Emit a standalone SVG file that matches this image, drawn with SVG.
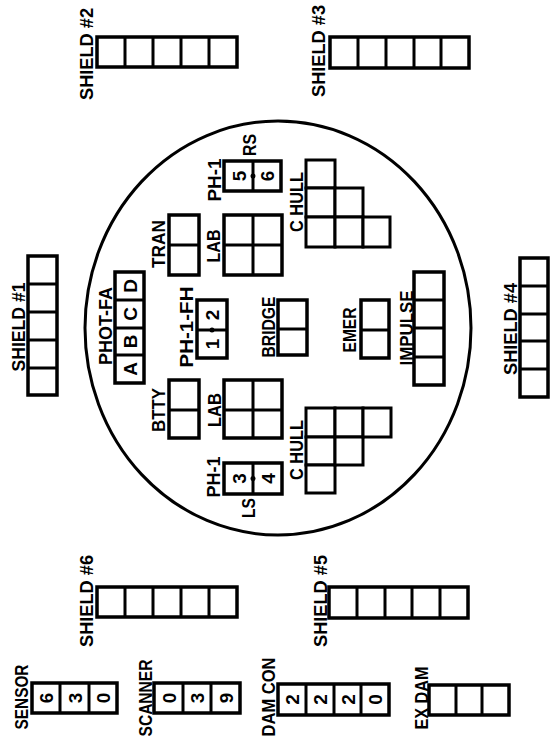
<svg xmlns="http://www.w3.org/2000/svg" width="552" height="747" viewBox="0 0 552 747">
<style>
.box{fill:#fff;stroke:#000;stroke-width:3.5}
.cell{fill:#fff;stroke:#000;stroke-width:3}
.ln{stroke:#000;stroke-width:3;fill:none}
.lbl{font-family:"Liberation Sans",Arial,sans-serif;font-weight:bold;font-size:18px;text-anchor:middle;fill:#000}
.dg{font-family:"Liberation Sans",Arial,sans-serif;font-weight:bold;font-size:19px;text-anchor:middle;fill:#000}
</style>
<rect width="552" height="747" fill="#fff"/>
<g id="hull"><ellipse cx="278" cy="328" rx="193" ry="207" fill="none" stroke="#000" stroke-width="3"/></g>

<g id="shield2">
<rect class="box" x="97" y="37" width="140" height="30"/>
<path class="ln" d="M125 37V67M153 37V67M181 37V67M209 37V67"/>
<text class="lbl" transform="translate(93,54) rotate(-90)" textLength="92" lengthAdjust="spacingAndGlyphs">SHIELD #2</text>
</g>
<g id="shield3">
<rect class="box" x="330" y="37" width="139" height="31"/>
<path class="ln" d="M358 37V68M386 37V68M414 37V68M441 37V68"/>
<text class="lbl" transform="translate(325,51) rotate(-90)" textLength="92" lengthAdjust="spacingAndGlyphs">SHIELD #3</text>
</g>
<g id="shield1">
<rect class="box" x="28" y="256" width="29" height="139"/>
<path class="ln" d="M28 284H57M28 312H57M28 340H57M28 368H57"/>
<text class="lbl" transform="translate(25,327) rotate(-90)" textLength="89" lengthAdjust="spacingAndGlyphs">SHIELD #1</text>
</g>
<g id="shield4">
<rect class="box" x="520" y="258" width="28" height="139"/>
<path class="ln" d="M520 286H548M520 314H548M520 341H548M520 369H548"/>
<text class="lbl" transform="translate(517,329) rotate(-90)" textLength="92" lengthAdjust="spacingAndGlyphs">SHIELD #4</text>
</g>
<g id="shield6">
<rect class="box" x="97" y="587" width="140" height="30"/>
<path class="ln" d="M125 587V617M153 587V617M181 587V617M209 587V617"/>
<text class="lbl" transform="translate(93,601) rotate(-90)" textLength="92" lengthAdjust="spacingAndGlyphs">SHIELD #6</text>
</g>
<g id="shield5">
<rect class="box" x="329" y="587" width="139" height="31"/>
<path class="ln" d="M357 587V618M385 587V618M412 587V618M440 587V618"/>
<text class="lbl" transform="translate(327,601) rotate(-90)" textLength="92" lengthAdjust="spacingAndGlyphs">SHIELD #5</text>
</g>

<g id="sensor">
<rect class="box" x="32" y="683" width="85" height="30"/>
<path class="ln" d="M60 683V713M89 683V713"/>
<text class="dg" transform="translate(53,698) rotate(-90)">6</text>
<text class="dg" transform="translate(81.5,698) rotate(-90)">3</text>
<text class="dg" transform="translate(110,698) rotate(-90)">0</text>
<text class="lbl" transform="translate(28,697) rotate(-90)" textLength="65" lengthAdjust="spacingAndGlyphs">SENSOR</text>
</g>
<g id="scanner">
<rect class="box" x="154" y="683" width="86" height="30"/>
<path class="ln" d="M183 683V713M211 683V713"/>
<text class="dg" transform="translate(175.5,698) rotate(-90)">0</text>
<text class="dg" transform="translate(204,698) rotate(-90)">3</text>
<text class="dg" transform="translate(232.5,698) rotate(-90)">9</text>
<text class="lbl" transform="translate(152,698) rotate(-90)" textLength="77" lengthAdjust="spacingAndGlyphs">SCANNER</text>
</g>
<g id="damcon">
<rect class="box" x="278" y="684" width="111" height="31"/>
<path class="ln" d="M306 684V715M334 684V715M361 684V715"/>
<text class="dg" transform="translate(299,699.5) rotate(-90)">2</text>
<text class="dg" transform="translate(327,699.5) rotate(-90)">2</text>
<text class="dg" transform="translate(354.5,699.5) rotate(-90)">2</text>
<text class="dg" transform="translate(382,699.5) rotate(-90)">0</text>
<text class="lbl" transform="translate(275,697) rotate(-90)" textLength="79" lengthAdjust="spacingAndGlyphs">DAM CON</text>
</g>
<g id="exdam">
<rect class="box" x="429" y="685" width="80" height="30"/>
<path class="ln" d="M456 685V715M482 685V715"/>
<text class="lbl" transform="translate(428,698) rotate(-90)" textLength="63" lengthAdjust="spacingAndGlyphs">EX DAM</text>
</g>

<g id="ph1-rs">
<rect class="box" x="224" y="161" width="57" height="30"/>
<path class="ln" d="M253 161V191"/>
<circle cx="253" cy="176" r="2.5"/>
<text class="dg" transform="translate(245.5,176) rotate(-90)">5</text>
<text class="dg" transform="translate(274,176) rotate(-90)">6</text>
<text class="lbl" transform="translate(221,180) rotate(-90)" textLength="43" lengthAdjust="spacingAndGlyphs">PH-1</text>
<text class="lbl" transform="translate(256,145) rotate(-90)" textLength="22" lengthAdjust="spacingAndGlyphs">RS</text>
</g>
<g id="tran">
<rect class="box" x="169" y="215" width="30" height="60"/>
<path class="ln" d="M169 245H199"/>
<text class="lbl" transform="translate(165,244) rotate(-90)" textLength="48" lengthAdjust="spacingAndGlyphs">TRAN</text>
</g>
<g id="lab-top">
<rect class="box" x="224" y="215" width="58" height="60"/>
<path class="ln" d="M253 215V275M224 245H282"/>
<text class="lbl" transform="translate(220,246) rotate(-90)" textLength="33" lengthAdjust="spacingAndGlyphs">LAB</text>
</g>
<g id="chull-top">
<rect class="cell" x="306" y="160" width="29" height="28"/>
<rect class="cell" x="306" y="188" width="29" height="29"/>
<rect class="cell" x="306" y="217" width="29" height="30"/>
<rect class="cell" x="335" y="188" width="28" height="29"/>
<rect class="cell" x="335" y="217" width="28" height="30"/>
<rect class="cell" x="363" y="217" width="27" height="30"/>
<text class="lbl" transform="translate(303,202) rotate(-90)" textLength="60" lengthAdjust="spacingAndGlyphs">C HULL</text>
</g>
<g id="phot-fa">
<rect class="box" x="115" y="272" width="29" height="111"/>
<path class="ln" d="M115 300H144M115 328H144M115 355H144"/>
<text class="dg" transform="translate(136.5,286) rotate(-90)">D</text>
<text class="dg" transform="translate(136.5,314) rotate(-90)">C</text>
<text class="dg" transform="translate(136.5,341.5) rotate(-90)">B</text>
<text class="dg" transform="translate(136.5,369) rotate(-90)">A</text>
<text class="lbl" transform="translate(112,326) rotate(-90)" textLength="78" lengthAdjust="spacingAndGlyphs">PHOT-FA</text>
</g>
<g id="ph1-fh">
<rect class="box" x="197" y="300" width="30" height="58"/>
<path class="ln" d="M197 330H227"/>
<circle cx="212" cy="330" r="2.5"/>
<text class="dg" transform="translate(219,315) rotate(-90)">2</text>
<text class="dg" transform="translate(219,344) rotate(-90)">1</text>
<text class="lbl" transform="translate(193,327) rotate(-90)" textLength="81" lengthAdjust="spacingAndGlyphs">PH-1-FH</text>
</g>
<g id="bridge">
<rect class="box" x="278" y="300" width="29" height="55"/>
<path class="ln" d="M278 329H307"/>
<text class="lbl" transform="translate(275,327) rotate(-90)" textLength="61" lengthAdjust="spacingAndGlyphs">BRIDGE</text>
</g>
<g id="btty">
<rect class="box" x="169" y="380" width="30" height="58"/>
<path class="ln" d="M169 410H199"/>
<text class="lbl" transform="translate(165,410) rotate(-90)" textLength="44" lengthAdjust="spacingAndGlyphs">BTTY</text>
</g>
<g id="lab-bottom">
<rect class="box" x="224" y="380" width="58" height="58"/>
<path class="ln" d="M253 380V438M224 410H282"/>
<text class="lbl" transform="translate(221,410) rotate(-90)" textLength="34" lengthAdjust="spacingAndGlyphs">LAB</text>
</g>
<g id="ph1-ls">
<rect class="box" x="224" y="463" width="58" height="31"/>
<path class="ln" d="M253 463V494"/>
<circle cx="253" cy="478.5" r="2.5"/>
<text class="dg" transform="translate(245.5,478.5) rotate(-90)">3</text>
<text class="dg" transform="translate(274.5,478.5) rotate(-90)">4</text>
<text class="lbl" transform="translate(220,477) rotate(-90)" textLength="41" lengthAdjust="spacingAndGlyphs">PH-1</text>
<text class="lbl" transform="translate(255,508) rotate(-90)" textLength="20" lengthAdjust="spacingAndGlyphs">LS</text>
</g>
<g id="chull-bottom">
<rect class="cell" x="306" y="408" width="29" height="29"/>
<rect class="cell" x="306" y="437" width="29" height="28"/>
<rect class="cell" x="306" y="465" width="29" height="28"/>
<rect class="cell" x="335" y="408" width="28" height="29"/>
<rect class="cell" x="335" y="437" width="28" height="28"/>
<rect class="cell" x="363" y="408" width="28" height="29"/>
<text class="lbl" transform="translate(303,450) rotate(-90)" textLength="60" lengthAdjust="spacingAndGlyphs">C HULL</text>
</g>
<g id="emer">
<rect class="box" x="361" y="300" width="28" height="58"/>
<path class="ln" d="M361 330H389"/>
<text class="lbl" transform="translate(356,330) rotate(-90)" textLength="45" lengthAdjust="spacingAndGlyphs">EMER</text>
</g>
<g id="impulse">
<rect class="box" x="414" y="272" width="30" height="113"/>
<path class="ln" d="M414 300H444M414 328H444M414 357H444"/>
<text class="lbl" transform="translate(413,328) rotate(-90)" textLength="75" lengthAdjust="spacingAndGlyphs">IMPULSE</text>
</g>
<g id="connectors"/>
</svg>
